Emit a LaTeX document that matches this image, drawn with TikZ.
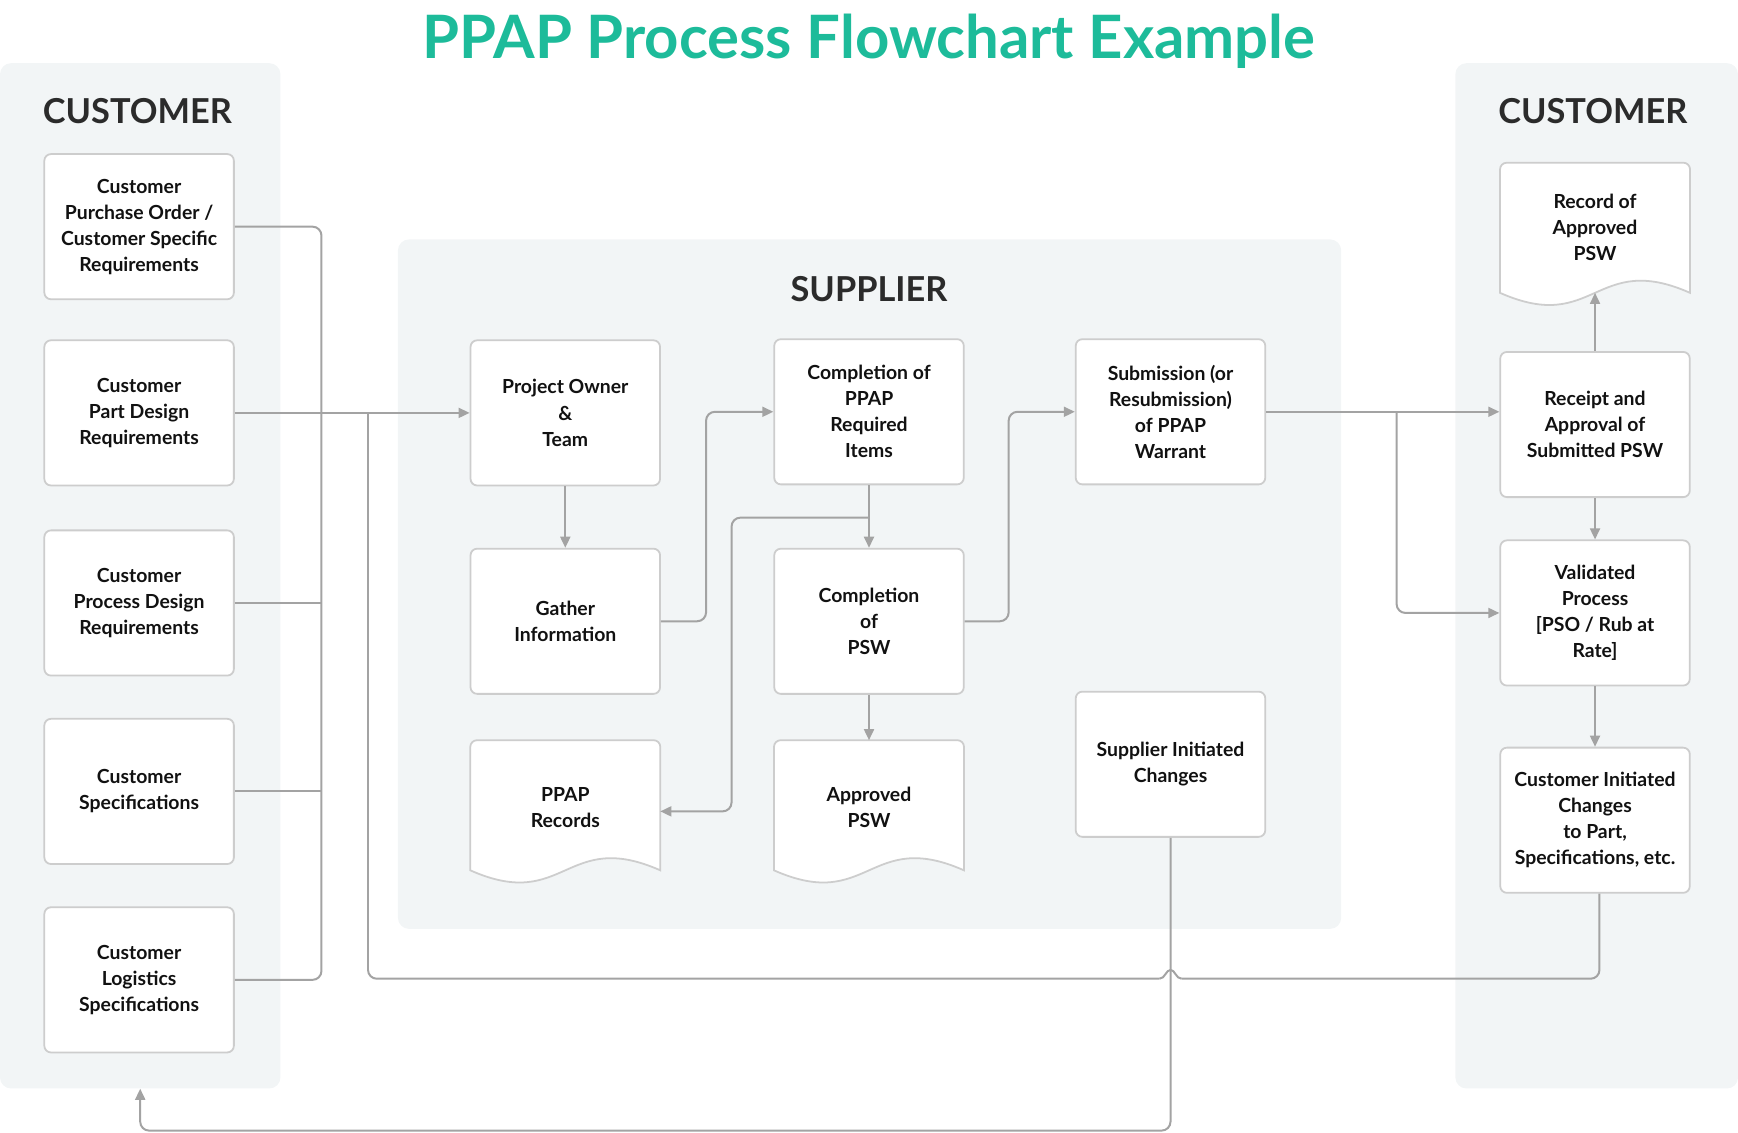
\documentclass[tikz,border=0pt]{standalone}
\usepackage{fontspec}
\setmainfont{Lato}
\usetikzlibrary{arrows.meta,calc}
\definecolor{titlec}{HTML}{1DBB9A}
\definecolor{panelc}{HTML}{F2F5F6}
\definecolor{borderc}{HTML}{CDCDCD}
\definecolor{linec}{HTML}{A3A3A3}
\definecolor{textc}{HTML}{111111}
\definecolor{headc}{HTML}{2B2B2B}
\tikzset{
  panel/.style={rectangle, fill=panelc, rounded corners=10pt, inner sep=0pt},
  heading/.style={font=\fontsize{31}{36}\selectfont\bfseries, text=headc, anchor=base, inner sep=0pt},
  box/.style={rectangle, draw=borderc, line width=1.6pt, fill=white, rounded corners=6pt,
    minimum width=171pt, minimum height=131pt, align=center, text=textc,
    font=\fontsize{17.5}{23.5}\selectfont\bfseries, inner sep=2pt},
  docbox/.style={rectangle, minimum width=171pt, minimum height=117pt, align=center, text=textc,
    font=\fontsize{17.5}{23.5}\selectfont\bfseries, inner sep=2pt},
  docline/.style={draw=borderc, line width=1.6pt, fill=white},
  conn/.style={draw=linec, line width=1.8pt, rounded corners=8pt},
  arr/.style={-{Triangle[length=10pt,width=9pt]}},
}
\newcommand{\docshape}[1]{%
  \path[docline] (#1.south west) -- ($(#1.north west)+(0pt,-6pt)$)
    arc[start angle=180, end angle=90, radius=6pt]
    -- ($(#1.north east)+(-6pt,0pt)$)
    arc[start angle=90, end angle=0, radius=6pt]
    -- (#1.south east)
    .. controls ($(#1.south)+(0pt,38pt)$) and ($(#1.south)+(0pt,-38pt)$) .. (#1.south west) -- cycle;}
\begin{document}
\begin{tikzpicture}[x=1pt,y=-1pt]
\useasboundingbox (0,0) rectangle (1568,1022);
% panels
\node[panel, minimum width=253pt, minimum height=925pt] (lp) at (126.5,519.5) {};
\node[panel, minimum width=255pt, minimum height=925pt] (rp) at (1440.5,519.5) {};
\node[panel, minimum width=851pt, minimum height=622pt] (sp) at (784.5,527) {};
% title and headings
\node[anchor=base, inner sep=0pt, text=titlec, font=\fontsize{54}{60}\selectfont\bfseries] (title) at (784,53) {PPAP Process Flowchart Example};
\node[heading] (hl) at (124,111) {CUSTOMER};
\node[heading] (hr) at (1437,111) {CUSTOMER};
\node[heading] (hs) at (784,272) {SUPPLIER};
% left boxes
\node[box] (b1) at (125.5,204.5) {Customer\\Purchase Order /\\Customer Specific\\Requirements};
\node[box] (b2) at (125.5,372.5) {Customer\\Part Design\\Requirements};
\node[box] (b3) at (125.5,544) {Customer\\Process Design\\Requirements};
\node[box] (b4) at (125.5,714) {Customer\\Specifications};
\node[box] (b5) at (125.5,884) {Customer\\Logistics\\Specifications};
% supplier boxes
\node[box] (po) at (510,372.5) {Project Owner\\\&\\Team};
\node[box] (gi) at (510,560.5) {Gather\\Information};
\node[docbox] (pr) at (510,726.5) {};
\node[box] (cp) at (784,371.5) {Completion of\\PPAP\\Required\\Items};
\node[box] (cpsw) at (784,560.5) {Completion\\of\\PSW};
\node[docbox] (apsw) at (784,726.5) {};
\node[box] (sub) at (1056,371.5) {Submission (or\\Resubmission)\\of PPAP\\Warrant};
\node[box] (sic) at (1056,689.5) {Supplier Initiated\\Changes};
% right boxes
\node[docbox] (recd) at (1439,205.5) {};
\node[box] (rec) at (1439,383) {Receipt and\\Approval of\\Submitted PSW};
\node[box] (val) at (1439,553) {Validated\\Process\\{[PSO / Rub at}\\Rate]};
\node[box] (cic) at (1439,740) {Customer Initiated\\Changes\\to Part,\\Specifications, etc.};
% document shapes
\docshape{pr}
\docshape{apsw}
\docshape{recd}
\node[docbox] at ($(pr.center)+(0,2)$) {PPAP\\Records};
\node[docbox] at ($(apsw.center)+(0,2)$) {Approved\\PSW};
\node[docbox] at (recd.center) {Record of\\Approved\\PSW};
% helper coordinates
\coordinate (bx) at (290,0);
\coordinate (b2x) at (332,0);
\coordinate (by) at (0,883);
\coordinate (ly) at (0,1020);
\coordinate (j1) at (637,0);
\coordinate (j2) at (660,467);
\coordinate (j3) at (910,0);
\coordinate (j4) at (1260,0);
\coordinate (hopC) at (sic.south |- by);
\coordinate (hopR) at ($(hopC)+(10,0)$);
\coordinate (hopL) at ($(hopC)+(-10,0)$);
\coordinate (cicout) at ($(cic.south)+(4,0)$);
% left connectors
\draw[conn] (b1.east) -| (bx |- b5.east) -- (b5.east);
\draw[conn] (b3.east) -- (b3.east -| bx);
\draw[conn] (b4.east) -- (b4.east -| bx);
\draw[conn,arr] (b2.east) -- (po.west);
% feedback from customer initiated changes
\draw[conn] (cicout) |- (hopR);
\draw[draw=linec, line width=1.8pt] (hopR) .. controls ($(hopC)+(5,0)$) and ($(hopC)+(4,-8)$) .. ($(hopC)+(0,-8)$)
   .. controls ($(hopC)+(-4,-8)$) and ($(hopC)+(-5,0)$) .. (hopL);
\draw[conn] (hopL) -| (b2x |- b2.east);
% supplier initiated changes to customer
\draw[conn,arr] (sic.south) |- (ly -| lp.south) -- (lp.south);
% supplier flow
\draw[conn,arr] (po.south) -- (gi.north);
\draw[conn,arr] (gi.east) -| (j1 |- cp.west) -- (cp.west);
\draw[conn,arr] (cp.south) -- (cpsw.north);
\draw[conn,arr] (cp.south |- j2) -- (j2) |- ($(pr.east)+(0pt,-5.5pt)$);
\draw[conn,arr] (cpsw.south) -- (apsw.north);
\draw[conn,arr] (cpsw.east) -| (j3 |- sub.west) -- (sub.west);
% to customer
\draw[conn,arr] (sub.east) -- (sub.east -| rec.west);
\draw[conn,arr] (j4 |- sub.east) |- (val.west);
\draw[conn,arr] (rec.north) -- (recd.south);
\draw[conn,arr] (rec.south) -- (val.north);
\draw[conn,arr] (val.south) -- (cic.north);
\end{tikzpicture}
\end{document}
